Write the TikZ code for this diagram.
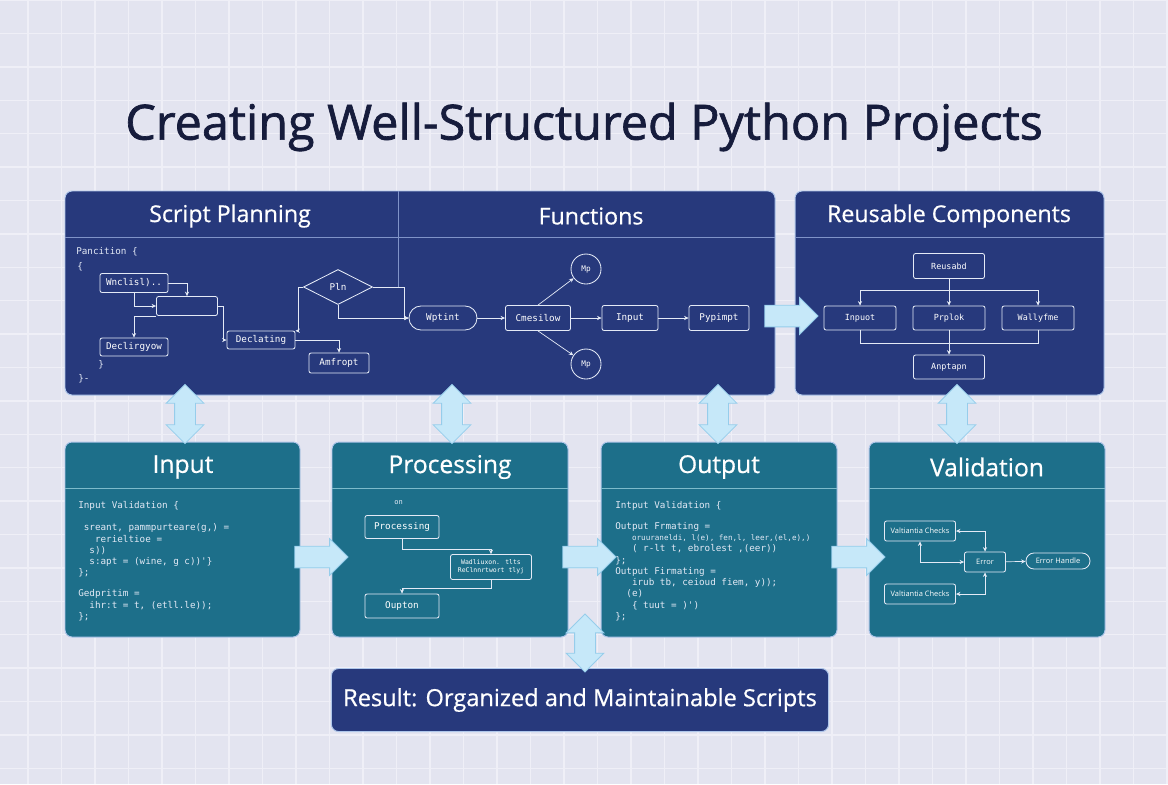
\documentclass[tikz,border=0pt]{standalone}
\usepackage{fontspec}
\setmainfont{Open Sans}
\newfontfamily\codefont{DejaVu Sans Mono}
\newfontfamily\titlefont{Open Sans}[FakeBold=1.4]
\newfontfamily\headfont{Open Sans}[FakeBold=0.6]
\usepackage{tikz}
\usetikzlibrary{positioning,fit,shapes.geometric,shapes.arrows,arrows.meta}

\definecolor{bgcol}{HTML}{E3E4F0}
\definecolor{gridcol}{HTML}{EFEFF7}
\definecolor{navy}{HTML}{27397C}
\definecolor{teal}{HTML}{1D6F8A}
\definecolor{rim}{HTML}{AFC6EA}
\definecolor{sepnavy}{HTML}{8093C8}
\definecolor{septeal}{HTML}{7DBBCB}
\definecolor{wire}{HTML}{E4EAF6}
\definecolor{arrowfill}{HTML}{C6E8F9}
\definecolor{arrowrim}{HTML}{96CDEB}
\definecolor{titlecol}{HTML}{161C3C}

\begin{document}
\begin{tikzpicture}[x=0.025cm,y=-0.025cm,
    panel/.style={draw=rim,line width=0.7pt,rounded corners=5pt,inner sep=0pt},
    hdr/.style={text=white,font=\headfont\fontsize{16.5}{18}\selectfont},
    sep/.style={line width=0.6pt},
    code/.style={anchor=north west,inner sep=0pt,text=wire,align=left,
        font=\codefont\fontsize{6.6}{8}\selectfont},
    fbox/.style={draw=wire,line width=0.6pt,rounded corners=1.5pt,text=white,inner sep=1pt,
        font=\codefont\fontsize{6.6}{8}\selectfont},
    vbox/.style={fbox,font=\fontsize{5.3}{6}\selectfont},
    flow/.style={draw=wire,line width=0.5pt,-{Stealth[length=3.2pt,width=3pt]}},
    flows/.style={draw=wire,line width=0.5pt,{Stealth[length=3.2pt,width=3pt]}-{Stealth[length=3.2pt,width=3pt]}},
    link/.style={draw=wire,line width=0.5pt},
    fath/.style={single arrow,draw=arrowrim,fill=arrowfill,line width=0.6pt,inner sep=0pt,
        inner ysep=0.26cm,minimum height=1.33cm,single arrow head extend=0.19cm},
    fatv/.style={double arrow,rotate=90,draw=arrowrim,fill=arrowfill,line width=0.6pt,inner sep=0pt,
        inner ysep=0.25cm,minimum height=1.48cm,double arrow head extend=0.21cm}
]
\useasboundingbox (0,0) rectangle (1168,784);
\fill[bgcol] (0,0) rectangle (1168,784);
\foreach \gx in {-5.5,28,...,1170}
    \draw[gridcol,line width=1pt] (\gx,0) -- (\gx,784);
\foreach \gy in {0,33.4,...,790}
    \draw[gridcol,line width=1pt] (0,\gy) -- (1168,\gy);

\node[text=titlecol,font=\titlefont\fontsize{34.5}{40}\selectfont] (title) at (584,127) {Creating Well-Structured Python Projects};

% top row
\node[panel,fill=navy,fit={(65,191) (775,395)}] (plan) {};
\node[panel,fill=navy,fit={(795,191) (1104,395)}] (reuse) {};
\draw[sepnavy,sep] (65,237) -- (775,237);
\draw[sepnavy,sep] (795,237) -- (1104,237);
\draw[sepnavy,sep] (398,191) -- (398,287);
\node[hdr] (planhd) at (230,216) {Script Planning};
\node[hdr] (funchd) at (591,216) {Functions};
\node[hdr] (reusehd) at (949,216) {Reusable Components};

\node[code] (pc1) at (76,247) {Pancition \{};
\node[code] (pc2) at (77,262) {\{};
\node[code] (pc3) at (98,360) {\}};
\node[code] (pc4) at (78,374) {\}-};
\node[fbox,minimum width=1.7cm,minimum height=0.475cm] (w1) at (134,283) {Wnclisl)..};
\node[fbox,minimum width=1.525cm,minimum height=0.475cm] (w2) at (187,306) {};
\node[fbox,minimum width=1.7cm,minimum height=0.45cm] (d1) at (134,347) {Declirgyow};
\node[fbox,minimum width=1.7cm,minimum height=0.45cm] (d2) at (261,340) {Declating};
\node[fbox,minimum width=1.5cm,minimum height=0.5cm] (a1) at (339,363) {Amfropt};
\node[fbox,diamond,rounded corners=0pt,minimum width=1.725cm,minimum height=0.875cm] (pl) at (338,287) {Pln};
\draw[flow] (w1.east) -| (w2.north);
\draw[flow] (w1.south) |- (w2.west);
\draw[flow] (w2.south west) -| (d1.north);
\draw[flow] (w2.east) -- ++(5,0) |- (d2.west);
\draw[flow] (d2.east) -| (a1.north);
\draw[flow] (pl.west) -- ++(-5,0) |- (d2.15);
\draw[link] (pl.east) -- (398,287);

\node[fbox,rounded corners=0.3cm,minimum width=1.7cm,minimum height=0.6cm] (e1) at (443,318) {Wptint};
\node[fbox,minimum width=1.625cm,minimum height=0.625cm] (c1) at (538,318) {Cmesilow};
\node[fbox,minimum width=1.4cm,minimum height=0.625cm] (i1) at (630,318) {Input};
\node[fbox,minimum width=1.5cm,minimum height=0.625cm] (p1) at (719,318) {Pypimpt};
\node[fbox,circle,minimum size=0.75cm,font=\codefont\fontsize{5.5}{6}\selectfont] (m1) at (586,269) {Mp};
\node[fbox,circle,minimum size=0.75cm,font=\codefont\fontsize{5.5}{6}\selectfont] (m2) at (586,364) {Mp};
\draw[flow] (pl.south) |- (e1.west);
\draw[flow] (398,287) -| ([xshift=-3pt]e1.west) -- (e1.west);
\draw[flow] (e1) -- (c1);
\draw[flow] (c1) -- (i1);
\draw[flow] (i1) -- (p1);
\draw[flow] (c1.north) -- (m1);
\draw[flow] (c1.south) -- (m2);

\node[fbox,minimum width=1.775cm,minimum height=0.625cm,font=\codefont\fontsize{6}{7}\selectfont] (r0) at (949,266) {Reusabd};
\node[fbox,minimum width=1.8cm,minimum height=0.6cm,font=\codefont\fontsize{6}{7}\selectfont] (r1) at (860,318) {Inpuot};
\node[fbox,minimum width=1.8cm,minimum height=0.6cm,font=\codefont\fontsize{6}{7}\selectfont] (r2) at (949,318) {Prplok};
\node[fbox,minimum width=1.8cm,minimum height=0.6cm,font=\codefont\fontsize{6}{7}\selectfont] (r3) at (1038,318) {Wallyfme};
\node[fbox,minimum width=1.775cm,minimum height=0.6cm,font=\codefont\fontsize{6}{7}\selectfont] (r4) at (949,367) {Anptapn};
\coordinate (bus) at (949,290);
\draw[flow] (r0) -- (r2);
\draw[flow] (bus) -| (r1.north);
\draw[flow] (bus) -| (r3.north);
\draw[link] (r1.south) -- ++(0,13) -| (r3.south);
\draw[flow] (r2) -- (r4);

% bottom row
\node[panel,fill=teal,fit={(65,442) (300,637)}] (inp) {};
\node[panel,fill=teal,fit={(332,442) (568,637)}] (proc) {};
\node[panel,fill=teal,fit={(601,442) (837,637)}] (outp) {};
\node[panel,fill=teal,fit={(869,442) (1105,637)}] (valid) {};
\foreach \px/\qx in {65/300,332/568,601/837,869/1105}
    \draw[septeal,sep] (\px,488) -- (\qx,488);
\node[hdr,font=\headfont\fontsize{17.5}{20}\selectfont] (inphd) at (183,467) {Input};
\node[hdr,font=\headfont\fontsize{17.5}{20}\selectfont] (prochd) at (450,467) {Processing};
\node[hdr,font=\headfont\fontsize{17.5}{20}\selectfont] (outphd) at (719,467) {Output};
\node[hdr,font=\headfont\fontsize{17.5}{20}\selectfont] (validhd) at (987,467) {Validation};

\node[code] (incode) at (78,501) {Input Validation \{\\[8pt]
~sreant, pammpurteare(g,) =\\
~~~rerieltioe =\\
~~s))\\
~~s:apt = (wine, g c))'\}\\
\};\\[7pt]
Gedpritim =\\
~~ihr:t = t, (etll.le));\\
\};};

\node[code,font=\codefont\fontsize{5}{6}\selectfont] (on) at (394,500) {on};
\node[fbox,minimum width=1.85cm,minimum height=0.575cm] (q1) at (402,527) {Processing};
\node[fbox,minimum width=2.025cm,minimum height=0.625cm,align=center,
    font=\codefont\fontsize{4.6}{5.6}\selectfont] (q2) at (491,567) {Wadliuxon. tlts\\ReClnnrtwort tlyj};
\node[fbox,minimum width=1.85cm,minimum height=0.6cm] (q3) at (402,606) {Oupton};
\draw[flow] (q1.south) -- ++(0,10) -| (q2.north);
\draw[flow] (q2.south) -- ++(0,8) -| (q3.north);

\node[code] (outcode) at (615,501) {Intput Validation \{\\[7pt]
Output Frmating =\\
~~~{\fontsize{5.4}{8}\selectfont oruuraneldi, l(e), fen,l, leer,(el,e),)}\\
~~~( r-lt t, ebrolest ,(eer))\\
\};\\
Output Firmating =\\
~~~irub tb, ceioud fiem, y));\\
~~(e)\\
~~~\{ tuut = )')\\
\};};

\node[vbox,minimum width=1.775cm,minimum height=0.5cm] (v1) at (920,531) {Valtiantia Checks};
\node[vbox,minimum width=1.025cm,minimum height=0.5cm] (v2) at (985,562) {Error};
\node[vbox,rounded corners=0.2cm,minimum width=1.6cm,minimum height=0.4cm] (v3) at (1058,561) {Error Handle};
\node[vbox,minimum width=1.775cm,minimum height=0.5cm] (v4) at (920,594) {Valtiantia Checks};
\draw[flows] (v1.east) -| (v2.north);
\draw[flows] (v1.south) |- (v2.west);
\draw[flows] (v2.south) |- (v4.east);
\draw[flow] (v2) -- (v3);

\node[panel,fill=navy,minimum width=12.425cm,minimum height=1.575cm,text=white,
    font=\headfont\fontsize{16.8}{20}\selectfont] (result) at (580,700) {Result: Organized and Maintainable Scripts};

% fat arrows
\node[fath] (toreuse) at (786,316) {};
\node[fath] (toproc) at (316,557) {};
\node[fath] (toout) at (584,557) {};
\node[fath] (toval) at (853,557) {};
\node[fatv] (upinp) at (185,414) {};
\node[fatv] (upproc) at (452,414) {};
\node[fatv] (upoutp) at (718,414) {};
\node[fatv] (upval) at (957,414) {};
\node[fatv,minimum height=1.45cm] (toresult) at (585,643) {};
\end{tikzpicture}
\end{document}
